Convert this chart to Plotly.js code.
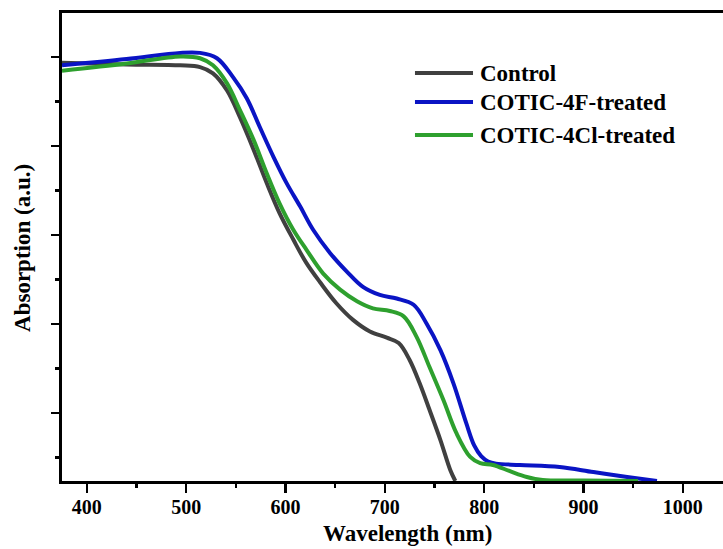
<!DOCTYPE html>
<html>
<head>
<meta charset="utf-8">
<script src="https://cdn.plot.ly/plotly-3.0.1.min.js"></script>
<style>
html,body{margin:0;padding:0;background:#fff;}
#chart{width:723px;height:549px;}
</style>
</head>
<body>
<div id="chart"></div>
<script>
// Wavelength (nm) and absorption (a.u., arbitrary scale)
const controlX = [375, 440, 494, 514, 527, 541, 554, 568, 581, 594, 608, 621, 635, 651, 668, 685, 702, 714, 725, 735, 745, 756, 766, 771];
const controlY = [4.70, 4.68, 4.67, 4.65, 4.58, 4.39, 4.09, 3.72, 3.35, 3.01, 2.71, 2.45, 2.23, 2.00, 1.81, 1.68, 1.61, 1.55, 1.36, 1.10, 0.80, 0.46, 0.12, 0];

const f4X = [375, 440, 494, 514, 531, 547, 561, 574, 588, 601, 615, 628, 645, 662, 678, 695, 712, 729, 742, 756, 769, 782, 790, 797, 804, 812, 836, 876, 910, 944, 974];
const f4Y = [4.67, 4.74, 4.81, 4.81, 4.75, 4.54, 4.30, 3.98, 3.64, 3.35, 3.08, 2.82, 2.56, 2.35, 2.18, 2.09, 2.05, 1.98, 1.77, 1.47, 1.10, 0.65, 0.40, 0.28, 0.22, 0.195, 0.18, 0.157, 0.10, 0.045, 0];

const cl4X = [375, 440, 494, 514, 527, 541, 554, 568, 581, 594, 608, 621, 638, 655, 672, 688, 705, 719, 732, 745, 759, 772, 786, 796, 809, 826, 843, 859, 900, 955];
const cl4Y = [4.61, 4.69, 4.77, 4.75, 4.67, 4.47, 4.17, 3.83, 3.46, 3.12, 2.82, 2.60, 2.33, 2.15, 2.02, 1.94, 1.91, 1.85, 1.62, 1.28, 0.91, 0.54, 0.27, 0.20, 0.18, 0.11, 0.045, 0.011, 0.005, 0];

const seriesNames = ["Control", "COTIC-4F-treated", "COTIC-4Cl-treated"];
const seriesColors = ["#404040", "#0a14c4", "#2ea02e"];
const xTickVals = [400, 500, 600, 700, 800, 900, 1000];

const FONT = "Liberation Serif, Times New Roman, serif";

const xs = [controlX, f4X, cl4X];
const ys = [controlY, f4Y, cl4Y];
const traces = xs.map((x, i) => ({
  x: x, y: ys[i], type: "scatter", mode: "lines", name: seriesNames[i],
  line: {color: seriesColors[i], width: 4, shape: "spline", smoothing: 1},
  showlegend: false, hoverinfo: "skip"
}));

// custom legend
const legY = [0.8718, 0.8098, 0.7393];
const shapes = seriesNames.map((n, i) => ({
  type: "line", xref: "paper", yref: "paper",
  x0: 0.534, x1: 0.6218, y0: legY[i], y1: legY[i],
  line: {color: seriesColors[i], width: 4}
}));
const annotations = seriesNames.map((n, i) => ({
  text: n, xref: "paper", yref: "paper", x: 0.6293, y: legY[i] - 0.002,
  xanchor: "left", yanchor: "middle", showarrow: false,
  font: {family: FONT, size: 23, color: "#000", weight: "bold"}
}));
annotations.push({
  text: "Wavelength (nm)", xref: "paper", yref: "paper", x: 0.5227, y: -0.112,
  xanchor: "center", yanchor: "middle", showarrow: false,
  font: {family: FONT, size: 23, color: "#000", weight: "bold"}
});
annotations.push({
  text: "Absorption (a.u.)", xref: "paper", yref: "paper", x: -0.059, y: 0.498,
  xanchor: "center", yanchor: "middle", textangle: -90, showarrow: false,
  font: {family: FONT, size: 23, color: "#000", weight: "bold"}
});

const layout = {
  width: 723, height: 549,
  margin: {l: 62, r: 0, t: 13, b: 68},
  paper_bgcolor: "#ffffff", plot_bgcolor: "#ffffff",
  showlegend: false,
  xaxis: {
    range: [375, 1040.5], tickmode: "array", tickvals: xTickVals,
    ticks: "outside", ticklen: 9, tickwidth: 2.5, tickcolor: "#000",
    ticklabelstandoff: -3,
    showline: true, linewidth: 3, linecolor: "#000", mirror: true,
    showgrid: false, zeroline: false,
    tickfont: {family: FONT, size: 20, color: "#000", weight: "bold"},
    minor: {dtick: 50, tick0: 350, ticks: "outside", ticklen: 4, tickwidth: 2.5, tickcolor: "#000", showgrid: false}
  },
  yaxis: {
    range: [0, 5.258], tickmode: "linear", tick0: 0.764, dtick: 1,
    showticklabels: false,
    ticks: "outside", ticklen: 8, tickwidth: 2.5, tickcolor: "#000",
    showline: true, linewidth: 3, linecolor: "#000", mirror: false,
    showgrid: false, zeroline: false,
    minor: {dtick: 0.5, tick0: 0.264, ticks: "outside", ticklen: 4, tickwidth: 2.5, tickcolor: "#000", showgrid: false}
  },
  shapes: shapes,
  annotations: annotations
};

Plotly.newPlot("chart", traces, layout, {displayModeBar: false, staticPlot: true});
</script>
</body>
</html>
